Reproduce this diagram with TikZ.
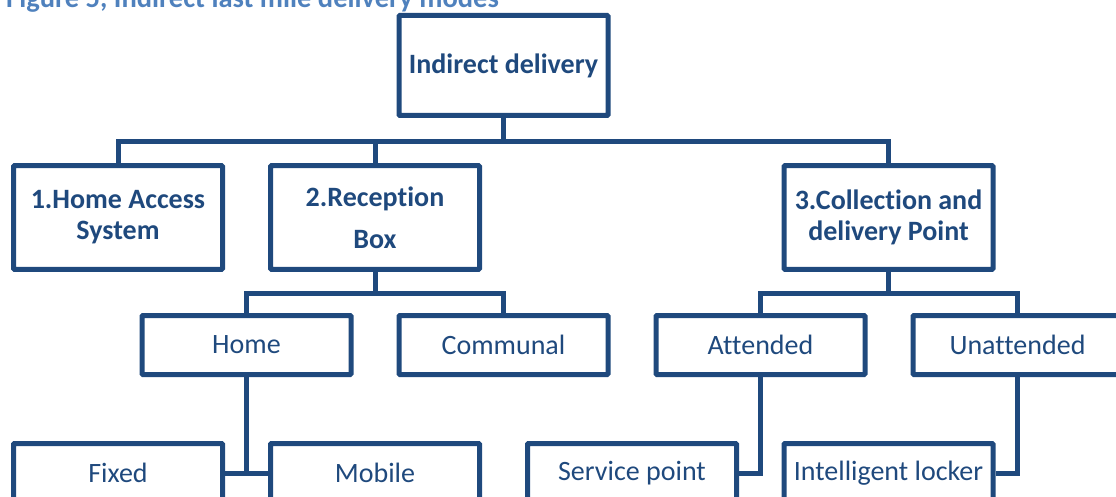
\documentclass[tikz,border=0pt]{standalone}
\usepackage{fontspec}
\setmainfont{Carlito}[Ligatures=NoCommon]
\definecolor{dblue}{HTML}{1F497D}
\definecolor{lblue}{HTML}{4F81BD}
\begin{document}
\begin{tikzpicture}[x=1pt,y=-1pt,
  box/.style={draw=dblue, line width=5pt, rounded corners=1pt, minimum width=209pt,
    text=dblue, font=\fontsize{28}{30}\selectfont, inner sep=0pt, align=center},
  bbox/.style={box, minimum height=103.5pt, font=\fontsize{28}{31}\bfseries\selectfont},
  sbox/.style={box, minimum height=59pt},
  link/.style={draw=dblue, line width=5pt}]
\useasboundingbox (0,0) rectangle (1116,497);
\clip (0,0) rectangle (1116,497);

\node[anchor=base west, text=lblue, font=\fontsize{28.5}{34}\bfseries\selectfont, inner sep=0pt]
  (title) at (6,8) {Figure 5, Indirect last mile delivery modes};

\node[bbox, minimum height=100pt] (top) at (503.5,65.5) {Indirect delivery};
\node[bbox] (b1) at (118,217.5) {1.Home Access\\System};
\node[bbox, font=\fontsize{28}{42}\bfseries\selectfont] (b2) at (375,217.5) {2.Reception\\Box};
\node[bbox] (b3) at (888.5,217.5) {3.Collection and\\delivery Point};

\node[sbox] (home) at (246.5,345) {Home};
\node[sbox] (communal) at (503.5,345) {Communal};
\node[sbox] (attended) at (760.5,345) {Attended};
\node[sbox] (unattended) at (1017.5,345) {Unattended};

\node[sbox] (fixed) at (118,473) {Fixed};
\node[sbox] (mobile) at (375,473) {Mobile};
\node[sbox] (service) at (632,473) {Service point};
\node[sbox] (locker) at (888.5,473) {Intelligent locker};

\coordinate (j1) at (503.5,142);
\draw[link] (top.south) -- (j1);
\draw[link] (b1.north) |- (j1) -| (b3.north);
\draw[link] (b2.north) -- (b2.north |- j1);

\coordinate (j2) at (375,293);
\draw[link] (b2.south) -- (j2);
\draw[link] (home.north) |- (j2) -| (communal.north);

\coordinate (j3) at (888.5,293);
\draw[link] (b3.south) -- (j3);
\draw[link] (attended.north) |- (j3) -| (unattended.north);

\coordinate (j4) at (246.5,473);
\draw[link] (home.south) -- (j4);
\draw[link] (fixed.east) -- (mobile.west);
\draw[link] (attended.south) |- (service.east);
\draw[link] (unattended.south) |- (locker.east);
\end{tikzpicture}
\end{document}
